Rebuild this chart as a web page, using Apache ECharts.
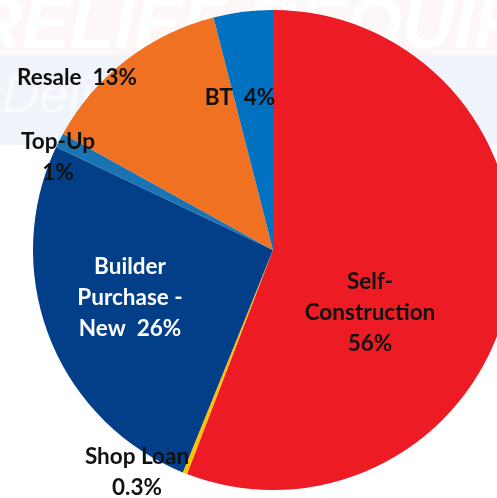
<!DOCTYPE html>
<html>
<head>
<meta charset="utf-8">
<script src="https://cdn.jsdelivr.net/npm/echarts@6/dist/echarts.min.js"></script>
<style>
html,body{margin:0;padding:0;background:#fff;}
#c{width:497px;height:498px;}
</style>
</head>
<body>
<div id="c"></div>
<script>
const categories = ["Self-Construction", "Shop Loan", "Builder Purchase - New", "Top-Up", "Resale", "BT"];
const values = [56, 0.3, 26, 1, 13, 4];
const labelTexts = ["Self-\nConstruction\n56%", "Shop Loan\n0.3%", "Builder\nPurchase -\nNew  26%", "Top-Up\n1%", "Resale  13%", "BT  4%"];

const colors = ["#ED1C24", "#FFC000", "#023F88", "#1A73B3", "#F07122", "#0070C0"];
const labelColors = ["#111", "#111", "#fff", "#111", "#111", "#111"];
const labelPos = [[370, 313], [137, 472], [130, 298], [58, 157], [77, 78], [240, 98]];

const chart = echarts.init(document.getElementById('c'), null, {renderer: 'canvas'});
chart.setOption({
  backgroundColor: '#ffffff',
  animation: false,
  graphic: [
    {type: 'rect', shape: {x: 0, y: 0, width: 497, height: 55}, style: {fill: '#FDF7F7'}, z: -10, silent: true},
    {type: 'rect', shape: {x: 0, y: 55, width: 497, height: 90}, style: {fill: '#F0F4FA'}, z: -10, silent: true},
    {type: 'text', x: -30, y: -8, z: -9, silent: true,
      style: {text: 'RELIEF REQUIRED', font: 'italic bold 72px "Liberation Sans"', fill: 'rgba(255,255,255,0.9)'}},
    {type: 'text', x: 2, y: 72, z: -9, silent: true,
      style: {text: 'Delivering', font: 'italic 52px "Liberation Sans"', fill: 'rgba(255,255,255,0.55)'}}
  ],
  series: [{
    type: 'pie',
    center: [273, 250],
    radius: 240,
    startAngle: 90,
    clockwise: true,
    avoidLabelOverlap: false,
    itemStyle: {borderWidth: 0},
    label: {
      show: true,
      position: 'inside',
      fontFamily: 'Lato',
      fontWeight: 'bold',
      fontSize: 22.5,
      lineHeight: 31,
      align: 'center'
    },
    labelLine: {show: false},
    labelLayout: function (p) {
      const pos = labelPos[p.dataIndex];
      return {x: pos[0], y: pos[1], align: 'center', verticalAlign: 'middle'};
    },
    data: categories.map((c, i) => ({
      name: c,
      value: values[i],
      itemStyle: {color: colors[i]},
      label: {formatter: labelTexts[i], color: labelColors[i]}
    }))
  }]
});
</script>
</body>
</html>
